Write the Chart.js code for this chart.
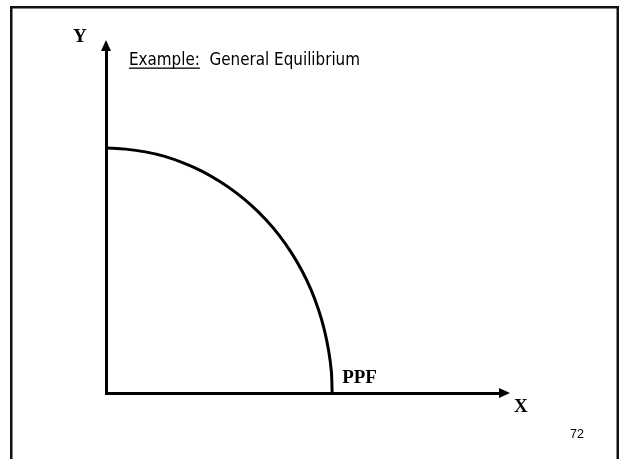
<!DOCTYPE html>
<html>
<head>
<meta charset="utf-8">
<script src="https://cdn.jsdelivr.net/npm/chart.js@4/dist/chart.umd.min.js"></script>
<style>
  html, body { margin: 0; padding: 0; background: #fff; }
  #wrap { width: 623px; height: 459px; }
</style>
</head>
<body>
<div id="wrap"><canvas id="c" width="623" height="459"></canvas></div>
<script>
// Data (axis units 0..100)
const ppfX = [0, 5.0, 10.0, 14.9, 19.6, 24.3, 28.7, 32.9, 36.9, 40.6, 44.0, 47.0, 49.7, 52.0, 53.9, 55.4, 56.5, 57.2, 57.4];
const ppfY = [71.4, 71.1, 70.3, 69.0, 67.1, 64.7, 61.8, 58.5, 54.7, 50.5, 45.9, 41.0, 35.7, 30.2, 24.4, 18.5, 12.4, 6.2, 0];
const curveLabel = 'PPF';
const xAxisLabel = 'X';
const yAxisLabel = 'Y';
const titlePrefix = 'Example:';
const titleRest = '  General Equilibrium';
const pageNumber = '72';

const points = ppfX.map((x, i) => ({ x: x, y: ppfY[i] }));

const decor = {
  id: 'decor',
  beforeDraw(chart) {
    const ctx = chart.ctx;
    ctx.save();
    ctx.fillStyle = '#ffffff';
    ctx.fillRect(0, 0, chart.width, chart.height);
    // slide frame
    ctx.strokeStyle = '#111';
    ctx.lineWidth = 2.5;
    ctx.strokeRect(11.25, 7.25, 606.5, 470);
    ctx.restore();
  },
  afterDraw(chart) {
    const ctx = chart.ctx;
    const xs = chart.scales.x, ys = chart.scales.y;
    const x0 = xs.getPixelForValue(0), y0 = ys.getPixelForValue(0);
    const xEnd = xs.getPixelForValue(100), yEnd = ys.getPixelForValue(100);
    ctx.save();
    ctx.fillStyle = '#000';
    // up arrow
    ctx.beginPath();
    ctx.moveTo(x0, yEnd - 10);
    ctx.lineTo(x0 - 5, yEnd + 1);
    ctx.lineTo(x0 + 5, yEnd + 1);
    ctx.closePath();
    ctx.fill();
    // right arrow
    ctx.beginPath();
    ctx.moveTo(xEnd + 10, y0);
    ctx.lineTo(xEnd - 1, y0 - 5);
    ctx.lineTo(xEnd - 1, y0 + 5);
    ctx.closePath();
    ctx.fill();

    // axis labels
    ctx.font = 'bold 19px "Liberation Serif", "Times New Roman", serif';
    ctx.textBaseline = 'alphabetic';
    ctx.textAlign = 'left';
    ctx.fillText(yAxisLabel, 73, 42);
    ctx.fillText(xAxisLabel, 514, 412);
    const ix = xs.getPixelForValue(ppfX[ppfX.length - 1]);
    ctx.fillText(curveLabel, ix + 10, 383);

    // title
    ctx.font = '18px "DejaVu Sans", sans-serif';
    const full = titlePrefix + titleRest;
    const w = ctx.measureText(full).width;
    const sx = 231 / w;
    ctx.save();
    ctx.translate(129, 65);
    ctx.scale(sx, 1);
    ctx.fillText(full, 0, 0);
    const pw = ctx.measureText(titlePrefix).width;
    ctx.fillRect(0, 2.5, pw, 1.3);
    ctx.restore();

    // page number
    ctx.font = '12.5px "Liberation Sans", Arial, sans-serif';
    ctx.textAlign = 'right';
    ctx.fillText(pageNumber, 584, 438);
    ctx.restore();
  }
};

new Chart(document.getElementById('c'), {
  type: 'scatter',
  data: {
    datasets: [{
      label: curveLabel,
      data: points,
      showLine: true,
      borderColor: '#000',
      borderWidth: 3,
      pointRadius: 0,
      fill: false,
      tension: 0.3
    }]
  },
  options: {
    responsive: false,
    animation: false,
    layout: { padding: { left: 106, right: 123, top: 50, bottom: 66 } },
    plugins: { legend: { display: false }, tooltip: { enabled: false }, title: { display: false } },
    scales: {
      x: {
        type: 'linear', min: 0, max: 100,
        grid: { display: false, drawTicks: false },
        ticks: { display: false },
        border: { display: true, color: '#000', width: 3 }
      },
      y: {
        type: 'linear', min: 0, max: 100,
        grid: { display: false, drawTicks: false },
        ticks: { display: false },
        border: { display: true, color: '#000', width: 3 }
      }
    }
  },
  plugins: [decor]
});
</script>
</body>
</html>
